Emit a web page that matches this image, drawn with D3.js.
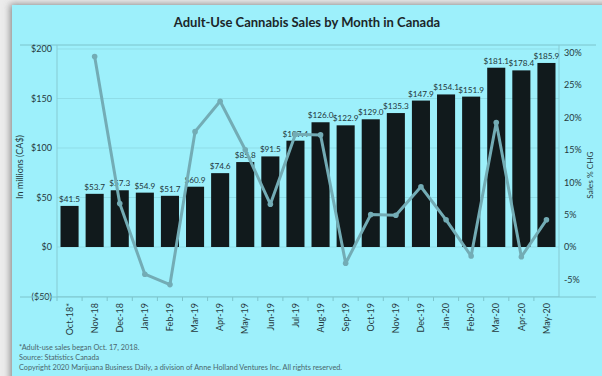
<!DOCTYPE html>
<html>
<head>
<meta charset="utf-8">
<script src="https://cdn.jsdelivr.net/npm/d3@7"></script>
<style>
  html, body { margin: 0; padding: 0; background: #ececec; }
  svg { display: block; font-family: Lato, "Open Sans", sans-serif; }
</style>
</head>
<body>
<svg id="chart" width="602" height="376"></svg>
<script>
// Monthly adult-use cannabis sales in Canada (millions CA$)
const months = ["Oct-18*", "Nov-18", "Dec-18", "Jan-19", "Feb-19", "Mar-19", "Apr-19",
  "May-19", "Jun-19", "Jul-19", "Aug-19", "Sep-19", "Oct-19", "Nov-19", "Dec-19",
  "Jan-20", "Feb-20", "Mar-20", "Apr-20", "May-20"];
const sales = [41.5, 53.7, 57.3, 54.9, 51.7, 60.9, 74.6, 85.8, 91.5, 107.4, 126.0,
  122.9, 129.0, 135.3, 147.9, 154.1, 151.9, 181.1, 178.4, 185.9];
// Month-over-month change in sales (%), none for the first month
const pctChange = [null, 29.4, 6.7, -4.2, -5.8, 17.8, 22.5, 15.0, 6.6, 17.4, 17.3,
  -2.5, 5.0, 4.9, 9.3, 4.2, -1.4, 19.2, -1.5, 4.2];
const salesTicks = [-50, 0, 50, 100, 150, 200];
const pctTicks = [-5, 0, 5, 10, 15, 20, 25, 30];
const footnotes = [
  "*Adult-use sales began Oct. 17, 2018.",
  "Source: Statistics Canada",
  "Copyright 2020 Marijuana Business Daily, a division of Anne Holland Ventures Inc. All rights reserved."
];

const svg = d3.select("#chart");
const plot = { left: 57, right: 559, top: 45, bottom: 297 };
const ink = "#26393d";

// Panel with soft shadow
const defs = svg.append("defs");
const f = defs.append("filter").attr("id", "shadow")
  .attr("x", "-10%").attr("y", "-10%").attr("width", "130%").attr("height", "130%");
f.append("feDropShadow").attr("dx", -2).attr("dy", -1).attr("stdDeviation", 3.5)
  .attr("flood-color", "#6a6a6a").attr("flood-opacity", 0.75);
svg.append("rect").attr("x", 12).attr("y", 5).attr("width", 620).attr("height", 400)
  .attr("fill", "#9df0fb").attr("filter", "url(#shadow)");

const x = d3.scaleBand().domain(months).range([plot.left, plot.right])
  .paddingInner(0.28).paddingOuter(0.14);
const yL = d3.scaleLinear().domain([-50, 200]).range([296.5, 49]);
const yR = d3.scaleLinear().domain([0, 30]).range([247, 52.6]);

// Title
svg.append("text").attr("x", 307).attr("y", 27).attr("text-anchor", "middle")
  .attr("font-size", 13).attr("font-weight", 700).attr("fill", "#1b2629")
  .text("Adult-Use Cannabis Sales by Month in Canada");

// Frame line above plot
svg.append("line").attr("x1", 20).attr("x2", 596).attr("y1", plot.top).attr("y2", plot.top)
  .attr("stroke", "#7cc4cc").attr("stroke-width", 1);

// Gridlines
svg.append("g").selectAll("line").data(salesTicks).join("line")
  .attr("x1", plot.left).attr("x2", plot.right)
  .attr("y1", d => yL(d)).attr("y2", d => yL(d))
  .attr("stroke", "#8fdde7").attr("stroke-width", 1);

// Left axis
const axL = svg.append("g").attr("transform", `translate(${plot.left},0)`)
  .call(d3.axisLeft(yL).tickValues(salesTicks).tickSize(0).tickPadding(5)
    .tickFormat(d => d < 0 ? `($${-d})` : `$${d}`));
axL.select(".domain").remove();
axL.selectAll("text").attr("font-size", 9).attr("fill", ink).attr("font-family", "Lato");
svg.append("line").attr("x1", plot.left).attr("x2", plot.left).attr("y1", plot.top).attr("y2", plot.bottom)
  .attr("stroke", "#86cbd3");

// Right axis
const axR = svg.append("g").attr("transform", `translate(${plot.right},0)`)
  .call(d3.axisRight(yR).tickValues(pctTicks).tickSize(0).tickPadding(5)
    .tickFormat(d => `${d}%`));
axR.select(".domain").remove();
axR.selectAll("text").attr("font-size", 9).attr("fill", ink).attr("font-family", "Lato");
svg.append("line").attr("x1", plot.right).attr("x2", plot.right).attr("y1", plot.top).attr("y2", plot.bottom)
  .attr("stroke", "#86cbd3");

// Bottom axis with rotated month labels
const axB = svg.append("g").attr("transform", `translate(0,${plot.bottom})`)
  .call(d3.axisBottom(x).tickSize(0));
axB.select(".domain").remove();
axB.selectAll("text").attr("font-size", 9).attr("fill", ink).attr("font-family", "Lato")
  .attr("transform", "rotate(-90)").attr("text-anchor", "end")
  .attr("x", -6).attr("y", 0).attr("dy", "0.35em");
svg.append("line").attr("x1", 20).attr("x2", 596).attr("y1", plot.bottom).attr("y2", plot.bottom)
  .attr("stroke", "#7cc4cc");
svg.append("g").selectAll("line").data(months).join("line")
  .attr("x1", d => x(d) - x.step() * x.paddingInner() / 2)
  .attr("x2", d => x(d) - x.step() * x.paddingInner() / 2)
  .attr("y1", plot.bottom).attr("y2", plot.bottom + 4)
  .attr("stroke", "#7cc4cc");

// Axis titles
svg.append("text").attr("transform", "translate(23,167) rotate(-90)")
  .attr("text-anchor", "middle").attr("font-size", 9).attr("fill", ink)
  .text("In millions (CA$)");
svg.append("text").attr("transform", "translate(593,175) rotate(-90)")
  .attr("text-anchor", "middle").attr("font-size", 8.3).attr("fill", ink)
  .text("Sales % CHG");

// Bars
svg.append("g").selectAll("rect").data(months).join("rect")
  .attr("x", d => x(d)).attr("width", x.bandwidth())
  .attr("y", (d, i) => yL(sales[i])).attr("height", (d, i) => yL(0) - yL(sales[i]))
  .attr("fill", "#111a1c");

// Bar value labels
svg.append("g").selectAll("text").data(months).join("text")
  .attr("x", d => x(d) + x.bandwidth() / 2)
  .attr("y", (d, i) => yL(sales[i]) - 4)
  .attr("text-anchor", "middle").attr("font-size", 8.2).attr("fill", "#23373b")
  .text((d, i) => `$${sales[i].toFixed(1)}`);

// Percent change line
const pts = months.map((m, i) => ({ m, v: pctChange[i] })).filter(p => p.v !== null);
const line = d3.line().x(p => x(p.m) + x.bandwidth() / 2).y(p => yR(p.v));
svg.append("path").datum(pts).attr("d", line)
  .attr("fill", "none").attr("stroke", "#73acb5").attr("stroke-width", 3)
  .attr("stroke-linejoin", "round");
svg.append("g").selectAll("circle").data(pts).join("circle")
  .attr("cx", p => x(p.m) + x.bandwidth() / 2).attr("cy", p => yR(p.v)).attr("r", 2.8)
  .attr("fill", "#73acb5");

// Footnotes
svg.append("g").selectAll("text").data(footnotes).join("text")
  .attr("x", 19).attr("y", (d, i) => 350 + i * 10)
  .attr("font-size", 7.3).attr("fill", "#4a666c")
  .text(d => d);
</script>
</body>
</html>
